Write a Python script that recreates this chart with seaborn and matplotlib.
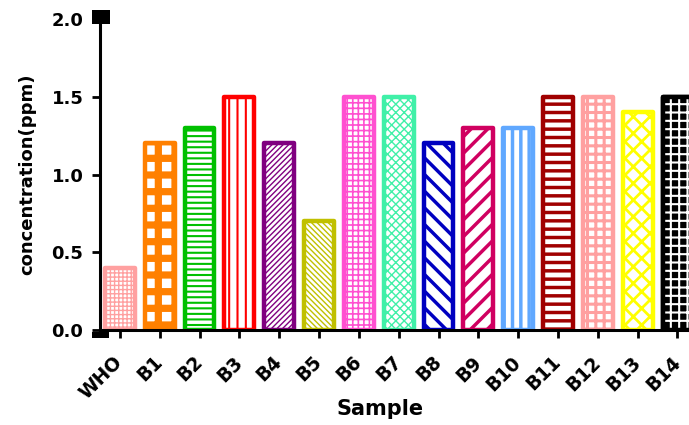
import matplotlib
matplotlib.use("Agg")
import matplotlib.pyplot as plt
from matplotlib.patches import Rectangle
import seaborn as sns

samples = ["WHO", "B1", "B2", "B3", "B4", "B5", "B6", "B7",
           "B8", "B9", "B10", "B11", "B12", "B13", "B14"]
concentration = [0.4, 1.2, 1.3, 1.5, 1.2, 0.7, 1.5, 1.5,
                 1.2, 1.3, 1.3, 1.5, 1.5, 1.4, 1.5]
edge_colors = ["#FFA0A0", "#FF8000", "#00C000", "#FF0000", "#800080",
               "#C0C000", "#FF50D0", "#40F0A8", "#0000C0", "#D00060",
               "#60A8FF", "#A00000", "#FFA0A0", "#FFFF00", "#000000"]
hatches = ["++++", "+", "---", "||", "//////", "\\\\\\\\\\\\", "+++", "xxxx",
           "\\\\", "//", "||", "--", "++", "xx", "++"]
hatch_widths = [1.0, 5.2, 1.5, 1.5, 1.0, 1.0, 1.2, 1.0,
                2.5, 2.5, 2.5, 2.5, 2.2, 2.0, 1.5]

sns.set_theme(style="ticks")
plt.rcParams["font.family"] = ["DejaVu Sans"]
plt.rcParams["font.weight"] = "bold"
plt.rcParams["text.color"] = "black"
plt.rcParams["axes.labelcolor"] = "black"
plt.rcParams["xtick.color"] = "black"
plt.rcParams["ytick.color"] = "black"

fig = plt.figure(figsize=(6.89, 4.25), dpi=100)
ax = fig.add_axes([100 / 689, 1 - 330 / 425, 589 / 689, 311 / 425])

sns.barplot(x=samples, y=concentration, hue=samples, palette=edge_colors,
            legend=False, width=0.75, ax=ax, errorbar=None)

for patch, col, h, hw in zip(ax.patches, edge_colors, hatches, hatch_widths):
    patch.set_facecolor("white" if col != "#000000" else "black")
    patch.set_edgecolor(col)
    patch.set_linewidth(3.2)
    patch.set_joinstyle("round")
    if col == "#000000":
        # brick-like white pattern on the black bar
        overlay = Rectangle(patch.get_xy(), patch.get_width(), patch.get_height(),
                            facecolor="none", edgecolor="white", hatch=h,
                            linewidth=0, zorder=patch.get_zorder() + 0.1)
        overlay.set_hatch_linewidth(hw)
        ax.add_patch(overlay)
        outline = Rectangle(patch.get_xy(), patch.get_width(), patch.get_height(),
                            facecolor="none", edgecolor="black", linewidth=3.2,
                            joinstyle="round", zorder=patch.get_zorder() + 0.2)
        ax.add_patch(outline)
    else:
        patch.set_hatch(h)
        patch.set_hatch_linewidth(hw)

ax.set_xlim(-0.5, 14.29)
ax.set_ylim(0, 2.0)
ax.set_yticks([0.0, 0.5, 1.0, 1.5, 2.0])
ax.set_yticklabels(["0.0", "0.5", "1.0", "1.5", "2.0"])
for s in ["top", "right"]:
    ax.spines[s].set_visible(False)
for s in ["left", "bottom"]:
    ax.spines[s].set_linewidth(2.2)
    ax.spines[s].set_color("black")
ax.tick_params(axis="both", length=6, width=2, color="black")
ax.tick_params(axis="y", labelsize=13, pad=6, labelcolor="black")
ax.tick_params(axis="x", labelsize=13.5, pad=15, labelcolor="black")
for lbl in ax.get_xticklabels():
    lbl.set_rotation(45)
    lbl.set_ha("right")
    lbl.set_va("center")
    lbl.set_rotation_mode("anchor")
    lbl.set_fontweight("bold")
for lbl in ax.get_yticklabels():
    lbl.set_fontweight("bold")

ax.set_xlabel("Sample", fontsize=15, fontweight="bold", color="black")
ax.xaxis.set_label_coords(0.475, -0.223)
ax.set_ylabel("concentration(ppm)", fontsize=13, fontweight="bold", labelpad=11,
              color="black")

# small black blocks at the ends of the value axis
fig.patches.append(Rectangle((92 / 689, 1 - 24 / 425), 18 / 689, 14 / 425,
                             transform=fig.transFigure, facecolor="black",
                             edgecolor="none", zorder=5))
fig.patches.append(Rectangle((92 / 689, 1 - 338 / 425), 17 / 689, 6 / 425,
                             transform=fig.transFigure, facecolor="black",
                             edgecolor="none", zorder=5))

fig.savefig("out.png", dpi=100)
